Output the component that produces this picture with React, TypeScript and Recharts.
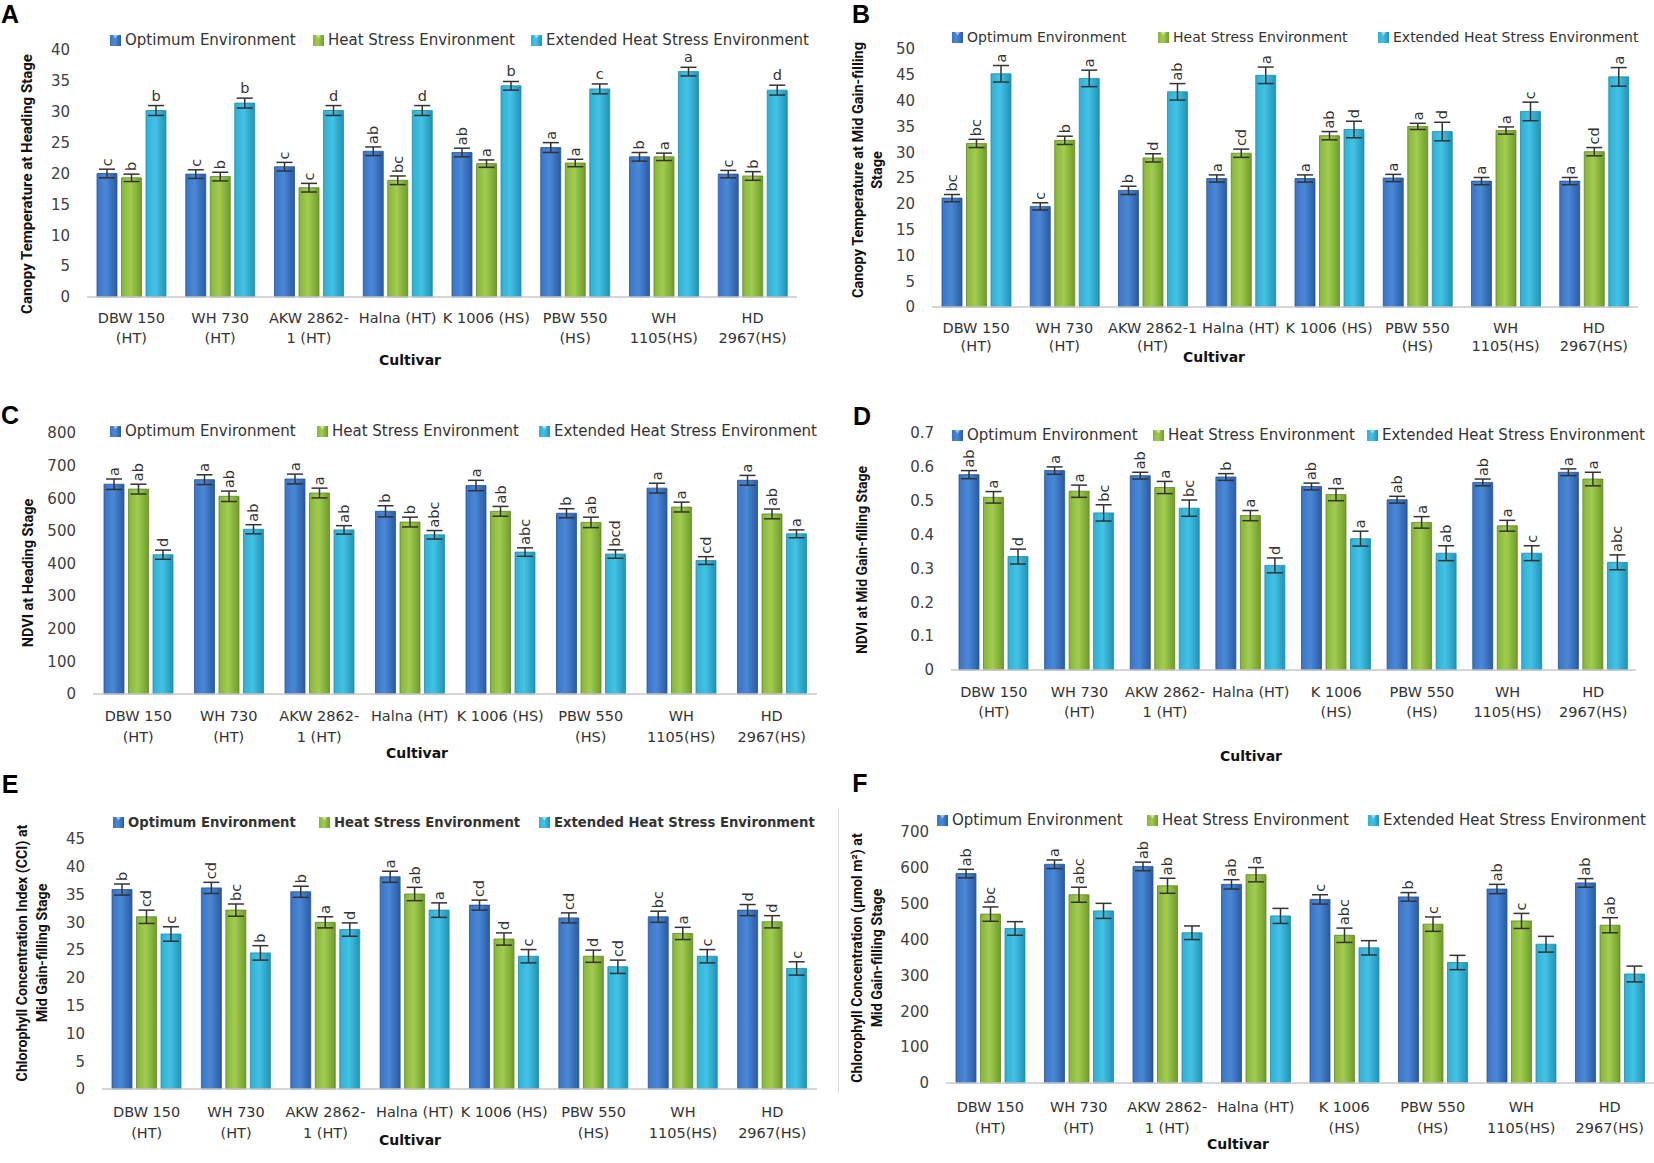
import React from "react";
import { BarChart, Bar, XAxis, YAxis, ErrorBar, LabelList } from "recharts";

const CULTIVARS = [
  "DBW 150 (HT)",
  "WH 730 (HT)",
  "AKW 2862-1 (HT)",
  "Halna (HT)",
  "K 1006 (HS)",
  "PBW 550 (HS)",
  "WH 1105(HS)",
  "HD 2967(HS)",
];

// tick labels, split the way each panel wraps them
const XLAB_ACE = ["DBW 150|(HT)", "WH 730|(HT)", "AKW 2862-|1 (HT)", "Halna (HT)", "K 1006 (HS)", "PBW 550|(HS)", "WH|1105(HS)", "HD|2967(HS)"];
const XLAB_B = ["DBW 150|(HT)", "WH 730|(HT)", "AKW 2862-1|(HT)", "Halna (HT)", "K 1006 (HS)", "PBW 550|(HS)", "WH|1105(HS)", "HD|2967(HS)"];
const XLAB_DF = ["DBW 150|(HT)", "WH 730|(HT)", "AKW 2862-|1 (HT)", "Halna (HT)", "K 1006|(HS)", "PBW 550|(HS)", "WH|1105(HS)", "HD|2967(HS)"];

const SERIES = ["Optimum Environment", "Heat Stress Environment", "Extended Heat Stress Environment"];

// A - canopy temperature at heading
const A_OPT = [20.0, 19.9, 21.1, 23.6, 23.4, 24.2, 22.7, 19.9];
const A_HEAT = [19.3, 19.5, 17.7, 18.9, 21.6, 21.7, 22.7, 19.6];
const A_EXT = [30.2, 31.4, 30.2, 30.2, 34.2, 33.7, 36.5, 33.5];
const A_OPT_ERR = [0.7, 0.7, 0.7, 0.7, 0.7, 0.8, 0.7, 0.6];
const A_HEAT_ERR = [0.6, 0.7, 0.7, 0.7, 0.6, 0.6, 0.6, 0.7];
const A_EXT_ERR = [0.8, 0.8, 0.8, 0.8, 0.7, 0.8, 0.7, 0.8];
const A_OPT_LET = ["c", "c", "c", "ab", "ab", "a", "b", "c"];
const A_HEAT_LET = ["b", "b", "c", "bc", "a", "a", "a", "b"];
const A_EXT_LET = ["b", "b", "d", "d", "b", "c", "a", "d"];
const A_TICKS = [0, 5, 10, 15, 20, 25, 30, 35, 40];

// B - canopy temperature at mid grain filling
const B_OPT = [21.1, 19.5, 22.6, 24.9, 24.9, 25.0, 24.4, 24.4];
const B_HEAT = [31.7, 32.3, 28.9, 29.8, 33.2, 35.0, 34.2, 30.1];
const B_EXT = [45.2, 44.3, 41.7, 44.9, 34.4, 34.0, 37.9, 44.6];
const B_OPT_ERR = [0.7, 0.7, 0.8, 0.7, 0.7, 0.7, 0.7, 0.7];
const B_HEAT_ERR = [0.8, 0.8, 0.8, 0.8, 0.8, 0.6, 0.7, 0.8];
const B_EXT_ERR = [1.6, 1.6, 1.6, 1.6, 1.6, 1.8, 1.8, 1.8];
const B_OPT_LET = ["bc", "c", "b", "a", "a", "a", "a", "a"];
const B_HEAT_LET = ["bc", "b", "d", "cd", "ab", "a", "a", "cd"];
const B_EXT_LET = ["a", "a", "ab", "a", "d", "d", "c", "a"];
const B_TICKS = [0, 5, 10, 15, 20, 25, 30, 35, 40, 45, 50];

// C - NDVI at heading
const C_OPT = [643, 657, 659, 560, 639, 554, 631, 655];
const C_HEAT = [628, 606, 616, 527, 560, 526, 573, 552];
const C_EXT = [427, 505, 503, 488, 435, 429, 409, 491];
const C_OPT_ERR = [16, 15, 15, 17, 16, 14, 15, 15];
const C_HEAT_ERR = [15, 16, 15, 15, 15, 16, 15, 15];
const C_EXT_ERR = [14, 14, 13, 13, 13, 13, 12, 12];
const C_OPT_LET = ["a", "a", "a", "b", "a", "b", "a", "a"];
const C_HEAT_LET = ["ab", "ab", "a", "b", "ab", "ab", "a", "ab"];
const C_EXT_LET = ["d", "ab", "ab", "abc", "abc", "bcd", "cd", "a"];
const C_TICKS = [0, 100, 200, 300, 400, 500, 600, 700, 800];

// D - NDVI at mid grain filling
const D_OPT = [0.577, 0.589, 0.574, 0.57, 0.542, 0.503, 0.554, 0.584];
const D_HEAT = [0.51, 0.528, 0.539, 0.456, 0.518, 0.436, 0.426, 0.564];
const D_EXT = [0.335, 0.464, 0.478, 0.309, 0.388, 0.345, 0.345, 0.318];
const D_OPT_ERR = [0.012, 0.011, 0.01, 0.01, 0.01, 0.01, 0.01, 0.01];
const D_HEAT_ERR = [0.017, 0.018, 0.018, 0.015, 0.018, 0.017, 0.016, 0.02];
const D_EXT_ERR = [0.022, 0.024, 0.024, 0.022, 0.022, 0.022, 0.022, 0.022];
const D_OPT_LET = ["ab", "a", "ab", "b", "ab", "ab", "ab", "a"];
const D_HEAT_LET = ["a", "a", "a", "a", "a", "a", "a", "a"];
const D_EXT_LET = ["d", "bc", "bc", "d", "a", "ab", "c", "abc"];
const D_TICKS = [0, 0.1, 0.2, 0.3, 0.4, 0.5, 0.6, 0.7];

// E - CCI at mid grain filling
const E_OPT = [35.9, 36.2, 35.5, 38.2, 33.1, 30.8, 31.0, 32.2];
const E_HEAT = [31.0, 32.2, 30.0, 35.1, 27.0, 23.9, 28.0, 30.1];
const E_EXT = [27.9, 24.5, 28.7, 32.2, 23.9, 22.0, 23.9, 21.7];
const E_OPT_ERR = [1.0, 1.0, 1.0, 1.0, 0.9, 0.9, 1.0, 1.0];
const E_HEAT_ERR = [1.2, 1.1, 1.0, 1.2, 1.1, 1.1, 1.1, 1.1];
const E_EXT_ERR = [1.3, 1.3, 1.2, 1.3, 1.2, 1.2, 1.2, 1.2];
const E_OPT_LET = ["b", "cd", "b", "a", "cd", "cd", "bc", "d"];
const E_HEAT_LET = ["cd", "bc", "a", "ab", "d", "d", "a", "d"];
const E_EXT_LET = ["c", "b", "d", "a", "c", "cd", "c", "c"];
const E_TICKS = [0, 5, 10, 15, 20, 25, 30, 35, 40, 45];

// F - chlorophyll concentration at mid grain filling
const F_OPT = [584, 610, 604, 554, 512, 519, 541, 558];
const F_HEAT = [471, 525, 550, 581, 412, 443, 452, 440];
const F_EXT = [431, 480, 419, 466, 377, 336, 387, 304];
const F_OPT_ERR = [12, 12, 12, 13, 13, 12, 13, 12];
const F_HEAT_ERR = [20, 21, 21, 20, 20, 20, 21, 21];
const F_EXT_ERR = [19, 21, 19, 21, 20, 20, 22, 22];
const F_OPT_LET = ["ab", "a", "ab", "ab", "c", "b", "ab", "ab"];
const F_HEAT_LET = ["bc", "abc", "ab", "a", "abc", "c", "c", "ab"];
const F_EXT_LET = ["", "", "", "", "", "", "", ""];
const F_TICKS = [0, 100, 200, 300, 400, 500, 600, 700];

const FONT = "'DejaVu Sans', sans-serif";
const TITLE_FONT = "Roboto, 'Open Sans', sans-serif";

const buildRows = (
  o: number[], h: number[], e: number[],
  oe: number[], he: number[], ee: number[],
  ol: string[], hl: string[], el: string[]
) =>
  CULTIVARS.map((name, i) => ({
    name,
    o: o[i], h: h[i], e: e[i],
    oErr: oe[i], hErr: he[i], eErr: ee[i],
    oL: ol[i], hL: hl[i], eL: el[i],
  }));

const makeLetter = (rows: any[], vKey: string, errKey: string, lKey: string, rotate: boolean) => (props: any) => {
  const vb = props.viewBox || {};
  const x = props.x ?? vb.x;
  const y = props.y ?? vb.y;
  const width = props.width ?? vb.width;
  const height = props.height ?? vb.height;
  const row = rows[props.index];
  if (!row || !row[lKey]) return null;
  const errPx = row[vKey] ? (row[errKey] * height) / row[vKey] : 0;
  const cx = x + width / 2;
  const top = y - errPx - 3;
  if (rotate) {
    return (
      <text x={cx} y={top} transform={`rotate(-90 ${cx} ${top})`} textAnchor="start" dominantBaseline="central"
        fontFamily={FONT} fontSize={14.5} fill="#333">
        {row[lKey]}
      </text>
    );
  }
  return (
    <text x={cx} y={top - 2} textAnchor="middle" fontFamily={FONT} fontSize={14.5} fill="#333">
      {row[lKey]}
    </text>
  );
};

const CatTick = (props: any) => {
  const { x, y, payload, labels, o1, o2 } = props;
  const idx = CULTIVARS.indexOf(payload.value);
  const lines = (labels[idx] || "").split("|");
  const base = y - 6;
  return (
    <text textAnchor="middle" fontFamily={FONT} fontSize={14.5} fill="#333">
      {lines.map((t: string, i: number) => (
        <tspan key={i} x={x} y={base + (i === 0 ? o1 : o2)} dominantBaseline="central">
          {t}
        </tspan>
      ))}
    </text>
  );
};

const GRAD = ["url(#gOpt)", "url(#gHeat)", "url(#gExt)"];
const EDGE = ["#24549a", "#5f8a22", "#1a8fb0"];

type PanelProps = {
  rows: any[];
  ticks: number[];
  max: number;
  plot: { l: number; r: number; t: number; b: number };
  labels: string[];
  xOff: [number, number];
  rotExt: boolean;
  legend: { y: number; xs: number[]; bold?: boolean; size: number };
  title: { cy: number; size: number; lines: { x: number; text: string }[] };
  cultivar: { x: number; y: number };
  tag: { text: string; x: number; y: number };
};

const Panel = ({ rows, ticks, max, plot, labels, xOff, rotExt, legend, title, cultivar, tag }: PanelProps) => {
  const yw = 70;
  const mt = 30;
  const w = plot.r - plot.l + yw + 2;
  const h = plot.b - plot.t + mt + 60;
  const keys = ["o", "h", "e"];
  return (
    <>
      <div style={{ position: "absolute", left: plot.l - yw, top: plot.t - mt }}>
        <BarChart width={w} height={h} data={rows} margin={{ top: mt, right: 2, left: 0, bottom: 0 }} barSize={20} barGap={4.5}>
          <XAxis
            dataKey="name"
            interval={0}
            tickLine={false}
            tickMargin={0}
            height={60}
            stroke="#c8c8c8"
            strokeWidth={1.5}
            tick={(p: any) => <CatTick {...p} labels={labels} o1={xOff[0]} o2={xOff[1]} />}
          />
          <YAxis
            width={yw}
            domain={[0, max]}
            ticks={ticks}
            interval={0}
            axisLine={false}
            tickLine={false}
            tickMargin={11}
            tick={{ fontFamily: FONT, fontSize: 15, fill: "#404040" }}
          />
          {keys.map((k, i) => (
            <Bar key={k} dataKey={k} name={SERIES[i]} fill={GRAD[i]} stroke={EDGE[i]} strokeWidth={0.8} isAnimationActive={false}>
              <ErrorBar dataKey={k + "Err"} width={8} stroke="#333" strokeWidth={1.5} />
              <LabelList dataKey={k + "L"} content={makeLetter(rows, k, k + "Err", k + "L", i < 2 || rotExt)} />
            </Bar>
          ))}
        </BarChart>
      </div>
      {legend.xs.map((lx, i) => (
        <div key={i} style={{ position: "absolute", left: lx, top: legend.y - 9, height: 18, display: "flex", alignItems: "center", whiteSpace: "nowrap",
          fontFamily: FONT, fontSize: legend.size, fontWeight: legend.bold ? 700 : 400, color: "#333" }}>
          <svg width={11} height={11} style={{ marginRight: 4 }}>
            <rect x={0} y={0} width={11} height={11} fill={GRAD[i]} />
            <polygon points="3,0 8,0 5.5,3.5" fill="#fff" opacity={0.5} />
          </svg>
          {SERIES[i]}
        </div>
      ))}
      {title.lines.map((ln, i) => (
        <div key={i} style={{ position: "absolute", left: ln.x, top: title.cy, transform: "translate(-50%, -50%) rotate(-90deg)", whiteSpace: "nowrap",
          fontFamily: TITLE_FONT, fontWeight: 700, fontSize: title.size, color: "#111" }}>
          {ln.text}
        </div>
      ))}
      <div style={{ position: "absolute", left: cultivar.x, top: cultivar.y, transform: "translate(-50%, -50%)", fontFamily: FONT, fontWeight: 700, fontSize: 14, color: "#111" }}>
        Cultivar
      </div>
      <div style={{ position: "absolute", left: tag.x, top: tag.y, transform: "translate(-50%, -50%)", fontFamily: "'Liberation Sans', Arial, sans-serif", fontWeight: 700, fontSize: 25, color: "#000" }}>
        {tag.text}
      </div>
    </>
  );
};

const App = () => {
  const rowsA = buildRows(A_OPT, A_HEAT, A_EXT, A_OPT_ERR, A_HEAT_ERR, A_EXT_ERR, A_OPT_LET, A_HEAT_LET, A_EXT_LET);
  const rowsB = buildRows(B_OPT, B_HEAT, B_EXT, B_OPT_ERR, B_HEAT_ERR, B_EXT_ERR, B_OPT_LET, B_HEAT_LET, B_EXT_LET);
  const rowsC = buildRows(C_OPT, C_HEAT, C_EXT, C_OPT_ERR, C_HEAT_ERR, C_EXT_ERR, C_OPT_LET, C_HEAT_LET, C_EXT_LET);
  const rowsD = buildRows(D_OPT, D_HEAT, D_EXT, D_OPT_ERR, D_HEAT_ERR, D_EXT_ERR, D_OPT_LET, D_HEAT_LET, D_EXT_LET);
  const rowsE = buildRows(E_OPT, E_HEAT, E_EXT, E_OPT_ERR, E_HEAT_ERR, E_EXT_ERR, E_OPT_LET, E_HEAT_LET, E_EXT_LET);
  const rowsF = buildRows(F_OPT, F_HEAT, F_EXT, F_OPT_ERR, F_HEAT_ERR, F_EXT_ERR, F_OPT_LET, F_HEAT_LET, F_EXT_LET);

  return (
    <div style={{ position: "absolute", left: 0, top: 0, width: 1654, height: 1163, overflow: "hidden", background: "#fff" }}>
      <svg width={0} height={0} style={{ position: "absolute" }}>
        <defs>
          <linearGradient id="gOpt" x1="0" y1="0" x2="1" y2="0">
            <stop offset="0%" stopColor="#3a74c4" />
            <stop offset="45%" stopColor="#4a88d6" />
            <stop offset="100%" stopColor="#2a5ba4" />
          </linearGradient>
          <linearGradient id="gHeat" x1="0" y1="0" x2="1" y2="0">
            <stop offset="0%" stopColor="#86b53a" />
            <stop offset="45%" stopColor="#a2cc50" />
            <stop offset="100%" stopColor="#6f9c2a" />
          </linearGradient>
          <linearGradient id="gExt" x1="0" y1="0" x2="1" y2="0">
            <stop offset="0%" stopColor="#2eafd4" />
            <stop offset="45%" stopColor="#44c2e4" />
            <stop offset="100%" stopColor="#1f93b8" />
          </linearGradient>
        </defs>
      </svg>

      <Panel rows={rowsA} ticks={A_TICKS} max={40} plot={{ l: 87, r: 797, t: 50, b: 297 }} labels={XLAB_ACE} xOff={[21, 41]} rotExt={false}
        legend={{ y: 40, xs: [110, 313, 531], size: 15 }}
        title={{ cy: 184, size: 15, lines: [{ x: 27, text: "Canopy Temperature at Heading Stage" }] }}
        cultivar={{ x: 410, y: 360 }} tag={{ text: "A", x: 10, y: 14 }} />

      <Panel rows={rowsB} ticks={B_TICKS} max={50} plot={{ l: 932, r: 1638, t: 49, b: 307 }} labels={XLAB_B} xOff={[21, 39]} rotExt={true}
        legend={{ y: 37, xs: [952, 1158, 1378], size: 14 }}
        title={{ cy: 170, size: 14.5, lines: [{ x: 858, text: "Canopy Temperature at Mid Gain-filling" }, { x: 877, text: "Stage" }] }}
        cultivar={{ x: 1214, y: 357 }} tag={{ text: "B", x: 861, y: 14 }} />

      <Panel rows={rowsC} ticks={C_TICKS} max={800} plot={{ l: 93, r: 817, t: 433, b: 694 }} labels={XLAB_ACE} xOff={[22, 43]} rotExt={true}
        legend={{ y: 431, xs: [110, 317, 539], size: 15 }}
        title={{ cy: 573, size: 14.5, lines: [{ x: 28, text: "NDVI at Heading Stage" }] }}
        cultivar={{ x: 417, y: 753 }} tag={{ text: "C", x: 10, y: 415 }} />

      <Panel rows={rowsD} ticks={D_TICKS} max={0.7} plot={{ l: 951, r: 1636, t: 433, b: 670 }} labels={XLAB_DF} xOff={[22, 42]} rotExt={true}
        legend={{ y: 435, xs: [952, 1153, 1367], size: 15 }}
        title={{ cy: 560, size: 14, lines: [{ x: 862, text: "NDVI at Mid Gain-filling Stage" }] }}
        cultivar={{ x: 1251, y: 756 }} tag={{ text: "D", x: 862, y: 416 }} />

      <Panel rows={rowsE} ticks={E_TICKS} max={45} plot={{ l: 102, r: 817, t: 839, b: 1089 }} labels={XLAB_ACE} xOff={[23, 44]} rotExt={true}
        legend={{ y: 822, xs: [113, 319, 539], size: 13.2, bold: true }}
        title={{ cy: 953, size: 14.2, lines: [{ x: 22, text: "Chlorophyll Concentration Index (CCI) at" }, { x: 42, text: "Mid Gain-filling Stage" }] }}
        cultivar={{ x: 410, y: 1140 }} tag={{ text: "E", x: 10, y: 784 }} />

      <div style={{ position: "absolute", left: 838, top: 808, width: 1, height: 285, background: "#dcdcdc" }} />
      <Panel rows={rowsF} ticks={F_TICKS} max={700} plot={{ l: 946, r: 1654, t: 832, b: 1083 }} labels={XLAB_DF} xOff={[24, 45]} rotExt={true}
        legend={{ y: 820, xs: [937, 1147, 1368], size: 15 }}
        title={{ cy: 958, size: 14.2, lines: [{ x: 857, text: "Chlorophyll Concentration (µmol m²) at" }, { x: 877, text: "Mid Gain-filling Stage" }] }}
        cultivar={{ x: 1238, y: 1144 }} tag={{ text: "F", x: 860, y: 783 }} />
    </div>
  );
};

export default App;
